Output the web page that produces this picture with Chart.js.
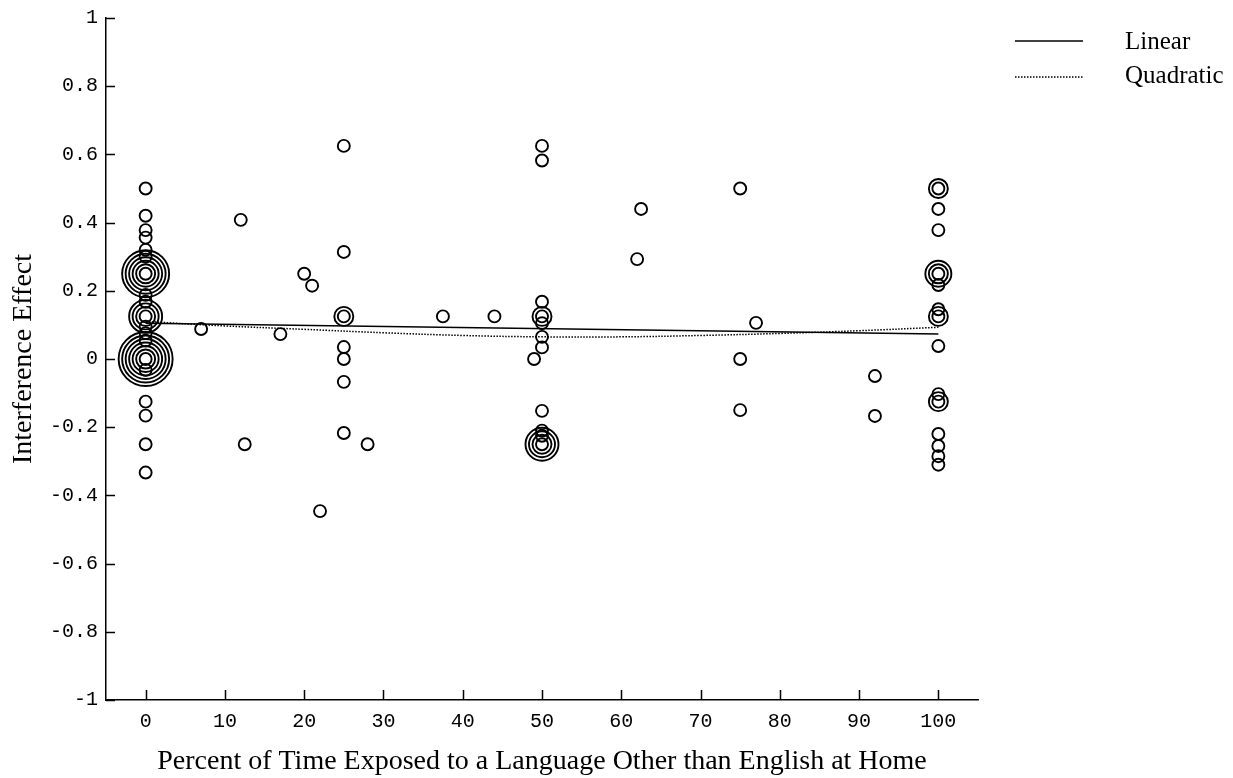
<!DOCTYPE html>
<html>
<head>
<meta charset="utf-8">
<script src="https://cdn.jsdelivr.net/npm/chart.js@4.4.1/dist/chart.umd.min.js"></script>
<style>
  html, body { margin: 0; padding: 0; background: #fff; }
  #wrap { width: 1233px; height: 778px; }
</style>
</head>
<body>
<div id="wrap"><canvas id="interferenceChart" width="1233" height="778"></canvas></div>
<script>
// observed points: x = % time exposed, y = interference effect, count = overlapping cases
const pointX = [
  0, 0, 0, 0, 0, 0, 0, 0, 0, 0, 0, 0, 0, 0, 0, 0, 0, 0, 0,
  7, 12, 12.5, 17, 20, 21, 22,
  25, 25, 25, 25, 25, 25, 25, 28,
  37.5, 44, 49,
  50, 50, 50, 50, 50, 50, 50, 50, 50, 50, 50,
  62, 62.5, 75, 75, 75, 77, 92, 92,
  100, 100, 100, 100, 100, 100, 100, 100, 100, 100, 100, 100, 100, 100
];
const pointY = [
  0.5, 0.42, 0.378, 0.356, 0.32, 0.3, 0.25, 0.188, 0.168, 0.125, 0.095, 0.076, 0.054, 0, -0.032, -0.125, -0.166, -0.25, -0.333,
  0.088, 0.408, -0.25, 0.073, 0.25, 0.215, -0.446,
  0.625, 0.314, 0.125, 0.035, 0, -0.067, -0.217, -0.25,
  0.125, 0.125, 0,
  0.625, 0.582, 0.168, 0.125, 0.105, 0.065, 0.034, -0.152, -0.21, -0.225, -0.25,
  0.293, 0.44, 0.5, 0, -0.15, 0.106, -0.05, -0.167,
  0.5, 0.44, 0.378, 0.25, 0.217, 0.146, 0.125, 0.038, -0.103, -0.125, -0.22, -0.255, -0.285, -0.31
];
const pointCount = [
  1, 1, 1, 1, 1, 1, 6, 1, 1, 4, 1, 1, 1, 7, 1, 1, 1, 1, 1,
  1, 1, 1, 1, 1, 1, 1,
  1, 1, 2, 1, 1, 1, 1, 1,
  1, 1, 1,
  1, 1, 1, 2, 1, 1, 1, 1, 1, 1, 4,
  1, 1, 1, 1, 1, 1, 1, 1,
  2, 1, 1, 3, 1, 1, 2, 1, 1, 2, 1, 1, 1, 1
];

// fitted lines
const linearX = [0, 100];
const linearY = [0.105, 0.073];
const quadX = [0, 10, 20, 30, 40, 50, 60, 70, 80, 90, 100];
const quadY = [0.11, 0.097, 0.087, 0.077, 0.069, 0.065, 0.065, 0.069, 0.075, 0.083, 0.093];

const xTicks = [0, 10, 20, 30, 40, 50, 60, 70, 80, 90, 100];
const yTicks = [-1, -0.8, -0.6, -0.4, -0.2, 0, 0.2, 0.4, 0.6, 0.8, 1];
const legendLabels = ['Linear', 'Quadratic'];

const xTitle = 'Percent of Time Exposed to a Language Other than English at Home';
const yTitle = 'Interference Effect';

// one entry per ring so stacked cases show as concentric circles
const ringPoints = [];
pointX.forEach((x, i) => {
  for (let k = 0; k < pointCount[i]; k++) ringPoints.push({ x: x, y: pointY[i], ring: k });
});

const inwardTicks = {
  id: 'inwardTicks',
  afterDraw(chart) {
    const { ctx, chartArea, scales } = chart;
    ctx.save();
    ctx.strokeStyle = '#000';
    ctx.lineWidth = 1.5;
    ctx.beginPath();
    scales.x.ticks.forEach(t => {
      const px = Math.round(scales.x.getPixelForValue(t.value)) + 0.5;
      ctx.moveTo(px, chartArea.bottom);
      ctx.lineTo(px, chartArea.bottom - 10);
    });
    scales.y.ticks.forEach(t => {
      const py = Math.round(scales.y.getPixelForValue(t.value)) + 0.5;
      ctx.moveTo(chartArea.left, py);
      ctx.lineTo(chartArea.left + 9, py);
    });
    ctx.stroke();
    ctx.restore();
  }
};

const sideLegend = {
  id: 'sideLegend',
  afterDraw(chart) {
    const ctx = chart.ctx;
    ctx.save();
    ctx.strokeStyle = '#000';
    ctx.fillStyle = '#000';
    ctx.font = '25px "Liberation Serif", "Times New Roman", serif';
    ctx.textBaseline = 'middle';
    ctx.textAlign = 'left';
    // Linear
    ctx.lineWidth = 1.5;
    ctx.beginPath();
    ctx.moveTo(1015, 41);
    ctx.lineTo(1083, 41);
    ctx.stroke();
    ctx.fillText(legendLabels[0], 1125, 42);
    // Quadratic
    ctx.lineWidth = 1.5;
    ctx.setLineDash([1.5, 1.5]);
    ctx.beginPath();
    ctx.moveTo(1015, 77);
    ctx.lineTo(1083, 77);
    ctx.stroke();
    ctx.setLineDash([]);
    ctx.fillText(legendLabels[1], 1125, 76);
    ctx.restore();
  }
};

const tickFont = { family: '"Liberation Mono", "DejaVu Sans Mono", monospace', size: 20 };
const titleFont = { family: '"Liberation Serif", "Times New Roman", serif', size: 28 };

new Chart(document.getElementById('interferenceChart'), {
  type: 'scatter',
  data: {
    datasets: [
      {
        label: 'Cases',
        data: ringPoints,
        pointRadius: c => 6 + 3.5 * (c.raw ? c.raw.ring : 0),
        pointHoverRadius: c => 6 + 3.5 * (c.raw ? c.raw.ring : 0),
        pointBorderWidth: 1.9,
        pointBorderColor: '#000',
        pointBackgroundColor: 'rgba(0,0,0,0)',
        showLine: false
      },
      {
        label: legendLabels[0],
        type: 'line',
        data: linearX.map((x, i) => ({ x: x, y: linearY[i] })),
        borderColor: '#000',
        borderWidth: 1.5,
        pointRadius: 0,
        fill: false
      },
      {
        label: legendLabels[1],
        type: 'line',
        data: quadX.map((x, i) => ({ x: x, y: quadY[i] })),
        borderColor: '#000',
        borderWidth: 1.5,
        borderDash: [1.5, 1.5],
        pointRadius: 0,
        tension: 0.4,
        fill: false
      }
    ]
  },
  options: {
    responsive: false,
    animation: false,
    layout: { autoPadding: false, padding: { left: 0, right: 255, top: 18, bottom: 0 } },
    plugins: { legend: { display: false }, tooltip: { enabled: false } },
    scales: {
      x: {
        type: 'linear',
        min: -5,
        max: 105,
        afterBuildTicks: s => { s.ticks = xTicks.map(v => ({ value: v })); },
        afterFit: s => { s.height = 78; s.paddingLeft = 0; s.paddingRight = 0; },
        grid: { display: false, drawTicks: false },
        border: { display: true, color: '#000', width: 1.5 },
        ticks: { color: '#000', font: tickFont, padding: 10, maxRotation: 0 },
        title: { display: true, text: xTitle, color: '#000', font: titleFont, padding: { top: 0, bottom: 0 } }
      },
      y: {
        type: 'linear',
        min: -1,
        max: 1,
        afterBuildTicks: s => { s.ticks = yTicks.map(v => ({ value: v })); },
        afterFit: s => { s.width = 106; s.paddingTop = 0; s.paddingBottom = 0; },
        grid: { display: false, drawTicks: false },
        border: { display: true, color: '#000', width: 1.5 },
        ticks: {
          color: '#000',
          font: tickFont,
          padding: 8,
          callback: v => String(Number(v.toFixed(1)))
        },
        title: { display: true, text: yTitle, color: '#000', font: titleFont, padding: { top: 7, bottom: 0 } }
      }
    }
  },
  plugins: [inwardTicks, sideLegend]
});
</script>
</body>
</html>
